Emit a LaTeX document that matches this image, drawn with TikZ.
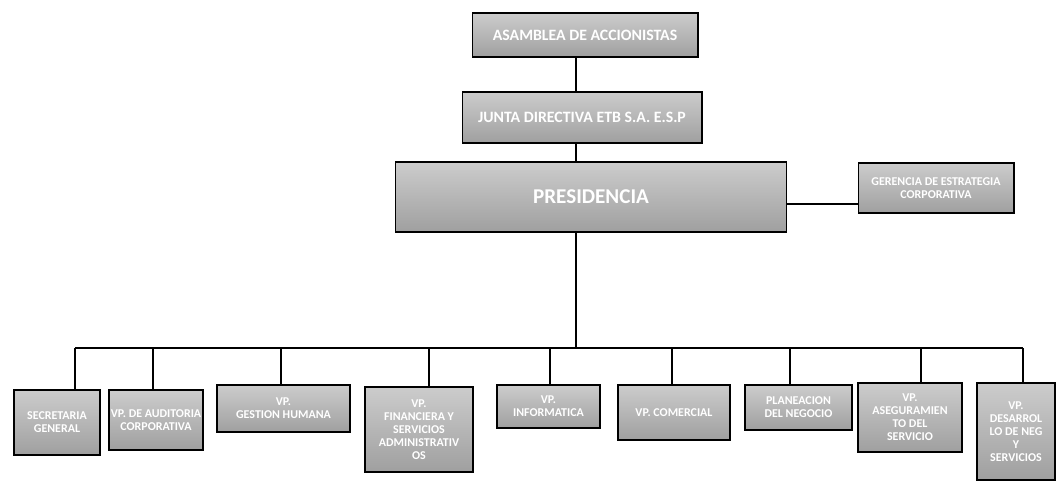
\documentclass[tikz,border=0pt]{standalone}
\usepackage{fontspec}
\setmainfont{Carlito}
\usetikzlibrary{positioning,calc}

\begin{document}
\begin{tikzpicture}[x=0.02cm,y=-0.02cm,
    cargo/.style={draw=black,line width=.6pt,top color=gray!40,bottom color=gray!75,
      text=white,font=\bfseries\fontsize{6.8}{7.4}\selectfont,align=center,inner sep=1pt},
    linea/.style={line width=1.3pt}]
  \useasboundingbox (0,0) rectangle (1061,486);
  \coordinate (eje) at (576,0);
  \coordinate (bus) at (576,348);
  \node[cargo,minimum width=4.52cm,minimum height=.88cm,font=\bfseries\fontsize{9}{10}\selectfont] (asamblea) at (585,35) {ASAMBLEA DE ACCIONISTAS};
  \node[cargo,minimum width=4.8cm,minimum height=1.02cm,font=\bfseries\fontsize{9}{10}\selectfont] (junta) at (582,117.5) {JUNTA DIRECTIVA ETB S.A. E.S.P};
  \node[cargo,minimum width=7.84cm,minimum height=1.4cm,font=\bfseries\fontsize{12}{13}\selectfont] (presidencia) at (591,197) {PRESIDENCIA};
  \node[cargo,minimum width=3.12cm,minimum height=1cm] (gerencia) at (936,188) {GERENCIA DE ESTRATEGIA\\CORPORATIVA};

  \node[cargo,minimum width=1.72cm,minimum height=1.3cm] (secretaria) at (57,422.5) {SECRETARIA\\GENERAL};
  \node[cargo,minimum width=1.88cm,minimum height=1.2cm] (auditoria) at (156,420) {VP. DE AUDITORIA\\CORPORATIVA};
  \node[cargo,minimum width=2.66cm,minimum height=.94cm] (humana) at (283.5,408.5) {VP.\\GESTION HUMANA};
  \node[cargo,minimum width=2.16cm,minimum height=1.7cm] (financiera) at (419,429.5) {VP.\\FINANCIERA Y\\SERVICIOS\\ADMINISTRATIV\\OS};
  \node[cargo,minimum width=2.06cm,minimum height=.86cm] (informatica) at (548.5,406.5) {VP.\\INFORMATICA};
  \node[cargo,minimum width=2.24cm,minimum height=1.1cm] (comercial) at (674,412.5) {VP. COMERCIAL};
  \node[cargo,minimum width=2.14cm,minimum height=.9cm] (planeacion) at (798.5,407.5) {PLANEACION\\DEL NEGOCIO};
  \node[cargo,minimum width=2.08cm,minimum height=1.38cm] (aseguramiento) at (910,417.5) {VP.\\ASEGURAMIEN\\TO DEL\\SERVICIO};
  \node[cargo,minimum width=1.56cm,minimum height=1.94cm] (desarrollo) at (1016,431.5) {VP.\\DESARROL\\LO DE NEG\\Y\\SERVICIOS};

  \draw[linea] (asamblea.south -| eje) -- (junta.north -| eje);
  \draw[linea] (junta.south -| eje) -- (presidencia.north -| eje);
  \draw[linea] (presidencia.south -| eje) -- (bus);
  \draw[linea] (presidencia.east |- 0,204) -- (gerencia.west |- 0,204);
  \draw[linea] (75,348) -- (1023,348);
  \foreach \n/\x in {secretaria/75,auditoria/153,humana/281,financiera/429,informatica/550,
      comercial/672,planeacion/790,aseguramiento/921,desarrollo/1023}
    \draw[linea] (\x,348) -- (\n.north -| \x,0);
\end{tikzpicture}
\end{document}
